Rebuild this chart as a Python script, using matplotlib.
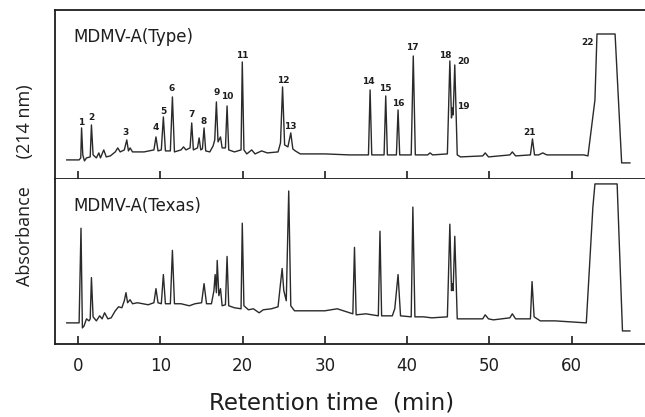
import matplotlib
matplotlib.use("Agg")
import matplotlib.pyplot as plt

# retention time (min) and absorbance (arb. units)
type_t = [-1.4, 0.1, 0.3, 0.4, 0.55, 0.75, 1.0, 1.45, 1.6, 1.8, 2.2, 2.5, 2.7, 3.1, 3.4, 3.9,
          4.5, 4.8, 5.1, 5.6, 5.9, 6.1, 6.3, 6.6, 8.0, 9.2, 9.45, 9.7, 10.1, 10.35, 10.6,
          11.2, 11.45, 11.7, 12.5, 12.8, 13.1, 13.6, 13.8, 14.0, 14.5, 14.7, 14.9, 15.1,
          15.3, 15.5, 16.0, 16.4, 16.6, 16.8, 17.0, 17.3, 17.5, 17.9, 18.1, 18.3, 19.0,
          19.8, 19.95, 20.15, 20.5, 21.1, 21.5, 22.3, 23.0, 24.3, 24.6, 24.85, 25.1, 25.5,
          25.85, 26.1, 26.4, 27.0, 30.0, 33.0, 35.3, 35.5, 35.7, 37.2, 37.4, 37.6, 38.7,
          38.9, 39.1, 40.5, 40.75, 41.0, 42.5, 42.8, 43.1, 44.9, 45.2, 45.4, 45.5, 45.6,
          45.8, 46.1, 46.5, 49.2, 49.5, 49.9, 52.5, 52.8, 53.2, 55.0, 55.25, 55.5, 56.0,
          56.5, 57.0, 61.5, 62.0, 62.85, 63.1, 65.3, 66.1, 67.1]
type_a = [0.19, 0.19, 0.21, 0.51, 0.24, 0.18, 0.21, 0.22, 0.54, 0.24, 0.21, 0.26, 0.21, 0.29,
          0.22, 0.23, 0.27, 0.31, 0.27, 0.29, 0.39, 0.28, 0.31, 0.27, 0.27, 0.29, 0.42, 0.28,
          0.29, 0.62, 0.28, 0.28, 0.82, 0.27, 0.29, 0.32, 0.29, 0.31, 0.56, 0.29, 0.31, 0.41,
          0.29, 0.30, 0.51, 0.28, 0.27, 0.33, 0.39, 0.77, 0.37, 0.42, 0.31, 0.31, 0.73, 0.29,
          0.27, 0.29, 1.17, 0.29, 0.25, 0.29, 0.25, 0.28, 0.26, 0.27, 0.36, 0.92, 0.34, 0.32,
          0.46, 0.30, 0.28, 0.25, 0.25, 0.24, 0.24, 0.89, 0.24, 0.24, 0.83, 0.24, 0.24, 0.69,
          0.24, 0.24, 1.23, 0.24, 0.24, 0.26, 0.24, 0.25, 1.18, 0.61, 0.71, 0.64, 1.14, 0.24,
          0.22, 0.23, 0.26, 0.22, 0.24, 0.27, 0.23, 0.24, 0.40, 0.24, 0.24, 0.26, 0.24, 0.24,
          0.23, 0.79, 1.45, 1.45, 0.16, 0.16]

texas_t = [-1.4, 0.1, 0.33, 0.5, 0.7, 1.0, 1.3, 1.45, 1.6, 1.8, 2.2, 2.6, 2.9, 3.2, 3.6, 4.0,
           4.5, 4.9, 5.3, 5.6, 5.8, 6.0, 6.3, 6.6, 7.2, 8.5, 9.2, 9.45, 9.7, 10.1, 10.35,
           10.6, 11.2, 11.45, 11.7, 12.5, 13.5, 14.2, 15.0, 15.3, 15.6, 16.2, 16.5, 16.65,
           16.8, 16.9, 17.1, 17.3, 17.5, 17.9, 18.1, 18.3, 19.0, 19.8, 19.95, 20.15, 20.7,
           21.3, 22.0, 22.5, 23.5, 24.3, 24.6, 24.8, 25.0, 25.3, 25.6, 25.85, 26.3, 28.0,
           30.0, 31.5, 33.4, 33.6, 33.8, 35.0, 36.5, 36.7, 36.9, 38.2, 38.5, 38.9, 39.2,
           40.5, 40.7, 40.95, 42.0, 43.0, 44.9, 45.2, 45.4, 45.5, 45.6, 45.8, 46.1, 47.0,
           49.2, 49.5, 49.9, 50.5, 52.5, 52.8, 53.2, 55.0, 55.2, 55.45, 56.2, 58.0, 61.8,
           62.6, 62.85, 65.55, 66.2, 67.1]
texas_a = [0.21, 0.21, 1.15, 0.16, 0.18, 0.25, 0.23, 0.25, 0.66, 0.27, 0.23, 0.28, 0.25, 0.31,
           0.25, 0.26, 0.33, 0.37, 0.36, 0.43, 0.51, 0.41, 0.44, 0.40, 0.41, 0.39, 0.41, 0.55,
           0.41, 0.40, 0.69, 0.40, 0.40, 0.93, 0.40, 0.40, 0.38, 0.40, 0.41, 0.60, 0.40, 0.40,
           0.53, 0.69, 0.51, 0.83, 0.48, 0.55, 0.38, 0.39, 0.87, 0.38, 0.36, 0.35, 1.20, 0.38,
           0.34, 0.35, 0.31, 0.34, 0.35, 0.37, 0.60, 0.75, 0.53, 0.43, 1.52, 0.38, 0.33, 0.33,
           0.33, 0.35, 0.30, 0.96, 0.29, 0.30, 0.28, 1.12, 0.28, 0.28, 0.35, 0.69, 0.28, 0.27,
           1.36, 0.27, 0.27, 0.26, 0.27, 1.19, 0.53, 0.60, 0.53, 1.07, 0.25, 0.25, 0.25, 0.29,
           0.25, 0.24, 0.26, 0.30, 0.25, 0.25, 0.62, 0.27, 0.23, 0.23, 0.21, 1.36, 1.59, 1.59,
           0.13, 0.13]

# peak numbers and where they are written in the upper trace
peak_labels = [str(i) for i in range(1, 23)]
peak_label_t = [0.3, 1.63, 5.8, 9.45, 10.3, 11.36, 13.8, 15.3, 16.84, 18.1, 19.9, 24.9, 25.85,
                35.3, 37.4, 38.9, 40.6, 44.7, 46.8, 46.8, 54.95, 61.9]
peak_label_a = [0.56, 0.61, 0.46, 0.51, 0.67, 0.90, 0.64, 0.57, 0.86, 0.82, 1.23, 0.98, 0.52,
                0.97, 0.90, 0.75, 1.31, 1.23, 0.72, 1.17, 0.46, 1.36]

xticks = [0, 10, 20, 30, 40, 50, 60]

ink = "#1e1e1e"

fig = plt.figure(figsize=(6.45, 4.17), dpi=100)
ax1 = fig.add_axes([0.0853, 0.571, 0.9147, 0.405])
ax2 = fig.add_axes([0.0853, 0.175, 0.9147, 0.396], sharex=ax1)

for ax, t, a, top, name in [(ax1, type_t, type_a, 1.69, "MDMV-A(Type)"),
                            (ax2, texas_t, texas_a, 1.64, "MDMV-A(Texas)")]:
    ax.plot(t, a, color="#2a2a2a", lw=1.0)
    ax.set_xlim(-2.83, 68.94)
    ax.set_ylim(0, top)
    ax.set_yticks([])
    ax.spines["right"].set_visible(False)
    for s in ["left", "bottom", "top"]:
        ax.spines[s].set_linewidth(1.3)
        ax.spines[s].set_color(ink)
    ax.set_xticks(xticks)
    ax.tick_params(axis="x", direction="in", length=6, width=1.2, color=ink)
    ax.text(-0.6, top - 0.27, name, fontsize=12, color=ink, va="center", ha="left")

ax2.spines["top"].set_visible(False)
ax1.tick_params(axis="x", labelbottom=False)
ax2.tick_params(axis="x", labelsize=12, pad=9, labelcolor=ink)

for lab, t, a in zip(peak_labels, peak_label_t, peak_label_a):
    ax1.text(t, a, lab, fontsize=6.5, fontweight="bold", ha="center", va="center", color=ink)

fig.text(332 / 645, 1 - 403 / 417, "Retention time  (min)", fontsize=16.5,
         ha="center", va="center", color=ink)
fig.text(25 / 645, 1 - 185 / 417, "Absorbance      (214 nm)", fontsize=13, family="Open Sans",
         rotation=90, ha="center", va="center", color=ink)

fig.savefig("out.png", dpi=100)
